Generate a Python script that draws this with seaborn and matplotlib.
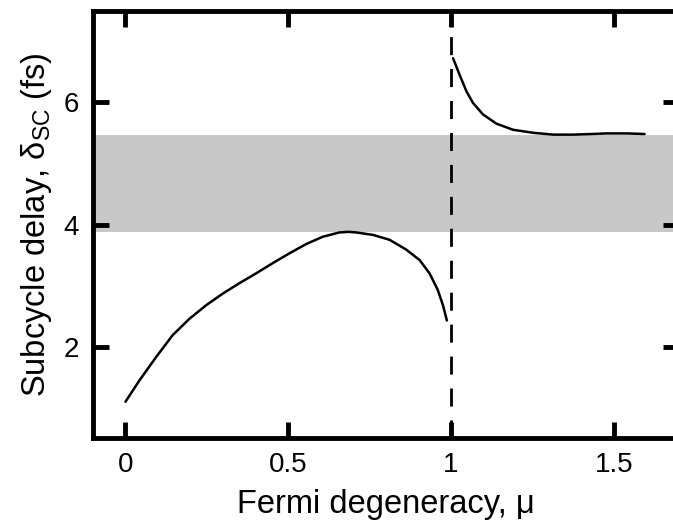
import matplotlib
matplotlib.use("Agg")
import matplotlib.pyplot as plt
import seaborn as sns
import pandas as pd

# Data
mu_low = [0.0, 0.043, 0.094, 0.145, 0.197, 0.248, 0.299, 0.350, 0.401, 0.453,
          0.504, 0.555, 0.606, 0.657, 0.685, 0.709, 0.760, 0.811, 0.862, 0.903,
          0.934, 0.959, 0.975, 0.987]
delay_low = [1.10, 1.45, 1.83, 2.19, 2.46, 2.68, 2.87, 3.04, 3.20, 3.37,
             3.53, 3.68, 3.80, 3.87, 3.88, 3.87, 3.83, 3.75, 3.59, 3.42,
             3.20, 2.93, 2.68, 2.43]
mu_high = [1.006, 1.026, 1.047, 1.067, 1.098, 1.139, 1.190, 1.252, 1.314,
           1.374, 1.430, 1.477, 1.540, 1.594]
delay_high = [6.72, 6.45, 6.18, 5.99, 5.80, 5.65, 5.55, 5.50, 5.47,
              5.47, 5.48, 5.49, 5.49, 5.48]
band = [3.87, 5.47]
mu_c = 1.0
xticks = [0, 0.5, 1, 1.5]
xticklabels = ["0", "0.5", "1", "1.5"]
yticks = [2, 4, 6]
yticklabels = ["2", "4", "6"]

sns.set_theme(style="ticks")
plt.rcParams["font.family"] = ["Liberation Sans", "DejaVu Sans"]
plt.rcParams["mathtext.fontset"] = "custom"
plt.rcParams["mathtext.rm"] = "Liberation Sans"
plt.rcParams["mathtext.it"] = "Liberation Sans"
plt.rcParams["text.color"] = "black"
plt.rcParams["axes.labelcolor"] = "black"

df_low = pd.DataFrame({"mu": mu_low, "delay": delay_low})
df_high = pd.DataFrame({"mu": mu_high, "delay": delay_high})

fig = plt.figure(figsize=(6.73, 5.27), dpi=100)
ax = fig.add_axes([0.138, 0.168, 0.871, 0.812])

ax.axhspan(band[0], band[1], color="#c8c8c8", lw=0, zorder=0)
ax.axvline(mu_c, color="black", lw=2, ls=(0, (6.5, 5)), zorder=1)
sns.lineplot(data=df_low, x="mu", y="delay", ax=ax, color="black", lw=1.8, zorder=3)
sns.lineplot(data=df_high, x="mu", y="delay", ax=ax, color="black", lw=1.8, zorder=3)

ax.set_xlim(-0.1, 1.7)
ax.set_ylim(0.5, 7.5)
ax.set_xticks(xticks)
ax.set_xticklabels(xticklabels)
ax.set_yticks(yticks)
ax.set_yticklabels(yticklabels)

for s in ax.spines.values():
    s.set_linewidth(3.5)
    s.set_color("black")
ax.tick_params(direction="in", length=11.5, width=3.5, top=True, right=True,
               labelsize=20, pad=10, colors="black")

ax.set_xlabel("Fermi degeneracy, μ", fontsize=23.5, labelpad=8, color="black")
ax.set_ylabel(r"Subcycle delay, δ$_{\mathrm{SC}}$ (fs)", fontsize=23.5, labelpad=7,
              color="black")

fig.savefig("out.png", dpi=100)
